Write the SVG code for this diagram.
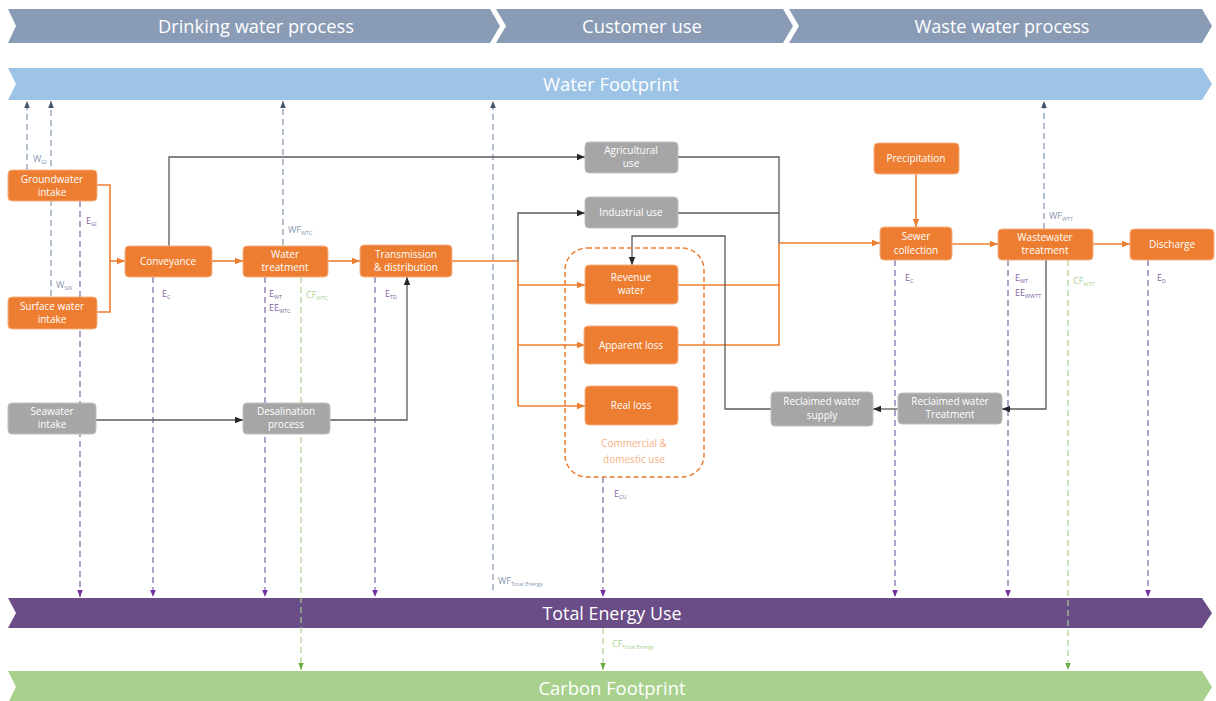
<svg xmlns="http://www.w3.org/2000/svg" width="1216" height="701" viewBox="0 0 1216 701">
<defs>
<style>
.band{font-family:"Open Sans","Noto Sans",sans-serif;fill:#ffffff;text-anchor:middle}
.nt{font-family:"Open Sans","Noto Sans",sans-serif;font-size:10px;fill:#ffffff;text-anchor:middle}
.or{fill:#ed7d31;stroke:#f4b183;stroke-width:1}
.gr{fill:#a6a6a6;stroke:#bfbfbf;stroke-width:1}
.lo{fill:none;stroke:#ed7d31;stroke-width:1.6}
.ld{fill:none;stroke:#595959;stroke-width:1.3}
.db{fill:none;stroke:#8497b0;stroke-width:1.2;stroke-dasharray:6,4}
.dp{fill:none;stroke:#8064a2;stroke-width:1.2;stroke-dasharray:6,4}
.dg{fill:none;stroke:#a9d18e;stroke-width:1.2;stroke-dasharray:6,4}
.lb{font-family:"Open Sans","Noto Sans",sans-serif;font-size:9px;fill:#8497b0}
.lp{font-family:"Open Sans","Noto Sans",sans-serif;font-size:9px;fill:#8064a2}
.lg{font-family:"Open Sans","Noto Sans",sans-serif;font-size:9px;fill:#a9d18e}
.sub{font-size:5.5px}
</style>
<marker id="aO" viewBox="0 0 10 10" refX="10" refY="5" markerWidth="8" markerHeight="8" markerUnits="userSpaceOnUse" orient="auto"><path d="M0,1 L10,5 L0,9 Z" fill="#ed7d31"/></marker>
<marker id="aD" viewBox="0 0 10 10" refX="10" refY="5" markerWidth="8" markerHeight="8" markerUnits="userSpaceOnUse" orient="auto"><path d="M0,1 L10,5 L0,9 Z" fill="#262626"/></marker>
<marker id="aB" viewBox="0 0 10 10" refX="10" refY="5" markerWidth="7" markerHeight="7" markerUnits="userSpaceOnUse" orient="auto"><path d="M0,1 L10,5 L0,9 Z" fill="#44546a"/></marker>
<marker id="aP" viewBox="0 0 10 10" refX="10" refY="5" markerWidth="7" markerHeight="7" markerUnits="userSpaceOnUse" orient="auto"><path d="M0,1 L10,5 L0,9 Z" fill="#7030a0"/></marker>
<marker id="aG" viewBox="0 0 10 10" refX="10" refY="5" markerWidth="7" markerHeight="7" markerUnits="userSpaceOnUse" orient="auto"><path d="M0,1 L10,5 L0,9 Z" fill="#70ad47"/></marker>
</defs>
<rect width="1216" height="701" fill="#ffffff"/>

<g id="header">
<path d="M8,9 L490,9 L500,26 L490,43 L8,43 L16,26 Z" fill="#8a9bb5"/>
<path d="M496,9 L783,9 L793,26 L783,43 L496,43 L506,26 Z" fill="#8a9bb5"/>
<path d="M789,9 L1202,9 L1212,26 L1202,43 L789,43 L799,26 Z" fill="#8a9bb5"/>
<text class="band" x="256" y="33" font-size="19" textLength="196" lengthAdjust="spacingAndGlyphs">Drinking water process</text>
<text class="band" x="642" y="33" font-size="19" textLength="120" lengthAdjust="spacingAndGlyphs">Customer use</text>
<text class="band" x="1002" y="33" font-size="19" textLength="175" lengthAdjust="spacingAndGlyphs">Waste water process</text>
</g>

<g id="water-footprint">
<path d="M8,68 L1202,68 L1212,84 L1202,100 L8,100 L16,84 Z" fill="#9dc3e6"/>
<text class="band" x="611" y="91" font-size="19" textLength="136" lengthAdjust="spacingAndGlyphs">Water Footprint</text>
</g>
<g id="total-energy">
<path d="M8,598 L1202,598 L1212,613 L1202,628 L8,628 L16,613 Z" fill="#6a4c86"/>
<text class="band" x="612" y="620" font-size="19" textLength="139" lengthAdjust="spacingAndGlyphs">Total Energy Use</text>
</g>
<g id="carbon-footprint">
<path d="M8,671 L1202,671 L1212,687 L1202,703 L8,703 L16,687 Z" fill="#a9d18e"/>
<text class="band" x="612" y="695" font-size="19" textLength="147" lengthAdjust="spacingAndGlyphs">Carbon Footprint</text>
</g>

<g id="connectors">
<!-- dashed blue up -->
<path class="db" d="M27,170 V101" marker-end="url(#aB)"/>
<path class="db" d="M51,296 V101" marker-end="url(#aB)"/>
<path class="db" d="M283,245 V101" marker-end="url(#aB)"/>
<path class="db" d="M493,590 V101" marker-end="url(#aB)"/>
<path class="db" d="M1044,229 V101" marker-end="url(#aB)"/>
<!-- dashed purple down -->
<path class="dp" d="M80,201 V597" marker-end="url(#aP)"/>
<path class="dp" d="M153,277 V597" marker-end="url(#aP)"/>
<path class="dp" d="M265,277 V597" marker-end="url(#aP)"/>
<path class="dp" d="M375,277 V597" marker-end="url(#aP)"/>
<path class="dp" d="M603,477 V597" marker-end="url(#aP)"/>
<path class="dp" d="M895,260 V597" marker-end="url(#aP)"/>
<path class="dp" d="M1008,260 V597" marker-end="url(#aP)"/>
<path class="dp" d="M1148,260 V597" marker-end="url(#aP)"/>
<!-- dashed green down -->
<path class="dg" d="M301,277 V670" marker-end="url(#aG)"/>
<path class="dg" d="M603,628 V670" marker-end="url(#aG)"/>
<path class="dg" d="M1068,260 V670" marker-end="url(#aG)"/>
<!-- orange flows -->
<path class="lo" d="M97,185 H110 V312 H97"/>
<path class="lo" d="M110,261 H125" marker-end="url(#aO)"/>
<path class="lo" d="M212,261 H243" marker-end="url(#aO)"/>
<path class="lo" d="M328,261 H360" marker-end="url(#aO)"/>
<path class="lo" d="M452,261 H518 V406"/>
<path class="lo" d="M518,285 H585" marker-end="url(#aO)"/>
<path class="lo" d="M518,345 H585" marker-end="url(#aO)"/>
<path class="lo" d="M518,406 H585" marker-end="url(#aO)"/>
<path class="lo" d="M678,285 H779"/>
<path class="lo" d="M678,345 H779 V243"/>
<path class="lo" d="M779,243 H880" stroke-width="2.2" marker-end="url(#aO)"/>
<path class="lo" d="M916,174 V227" marker-end="url(#aO)"/>
<path class="lo" d="M952,244 H998" marker-end="url(#aO)"/>
<path class="lo" d="M1093,244 H1130" marker-end="url(#aO)"/>
<!-- dark flows -->
<path class="ld" d="M169,246 V157 H585" marker-end="url(#aD)"/>
<path class="ld" d="M518,261 V213 H585" marker-end="url(#aD)"/>
<path class="ld" d="M678,157 H779 V243"/>
<path class="ld" d="M678,213 H779"/>
<path class="ld" d="M96,420 H243" marker-end="url(#aD)"/>
<path class="ld" d="M330,420 H407 V277" marker-end="url(#aD)"/>
<path class="ld" d="M1046,260 V409 H1002" marker-end="url(#aD)"/>
<path class="ld" d="M898,409 H873" marker-end="url(#aD)"/>
<path class="ld" d="M771,409 H725 V236 H632 V265" marker-end="url(#aD)"/>
</g>

<g id="labels">
<text class="lb" x="33" y="162">W<tspan class="sub" dy="2">GI</tspan></text>
<text class="lb" x="56" y="288">W<tspan class="sub" dy="2">SW</tspan></text>
<text class="lb" x="288" y="233">WF<tspan class="sub" dy="2">WTC</tspan></text>
<text class="lb" x="498" y="584">WF<tspan class="sub" dy="2">Total Energy</tspan></text>
<text class="lb" x="1049" y="219">WF<tspan class="sub" dy="2">WTT</tspan></text>
<text class="lp" x="86" y="224">E<tspan class="sub" dy="2">GI</tspan></text>
<text class="lp" x="162" y="297">E<tspan class="sub" dy="2">C</tspan></text>
<text class="lp" x="269" y="297">E<tspan class="sub" dy="2">WT</tspan></text>
<text class="lp" x="269" y="311">EE<tspan class="sub" dy="2">WTC</tspan></text>
<text class="lp" x="385" y="297">E<tspan class="sub" dy="2">TD</tspan></text>
<text class="lp" x="614" y="497">E<tspan class="sub" dy="2">CU</tspan></text>
<text class="lp" x="905" y="281">E<tspan class="sub" dy="2">C</tspan></text>
<text class="lp" x="1015" y="281">E<tspan class="sub" dy="2">WT</tspan></text>
<text class="lp" x="1015" y="296">EE<tspan class="sub" dy="2">WWTT</tspan></text>
<text class="lp" x="1157" y="281">E<tspan class="sub" dy="2">D</tspan></text>
<text class="lg" x="306" y="298">CF<tspan class="sub" dy="2">WTC</tspan></text>
<text class="lg" x="612" y="647">CF<tspan class="sub" dy="2">Total Energy</tspan></text>
<text class="lg" x="1073" y="284">CF<tspan class="sub" dy="2">WTT</tspan></text>
</g>

<g id="commercial-domestic">
<rect x="565" y="248" width="139" height="229" rx="22" fill="none" stroke="#ed7d31" stroke-width="1.5" stroke-dasharray="5,3"/>
<text class="nt" x="634" y="447" fill="#f4b183" style="fill:#f4b183">Commercial &amp;</text>
<text class="nt" x="634" y="463" style="fill:#f4b183">domestic use</text>
</g>

<g id="groundwater-intake"><rect class="or" x="8" y="170" width="89" height="31" rx="4"/><text class="nt" x="52" y="183">Groundwater</text><text class="nt" x="52" y="196">intake</text></g>
<g id="surface-water-intake"><rect class="or" x="8" y="297" width="89" height="32" rx="4"/><text class="nt" x="52" y="310">Surface water</text><text class="nt" x="52" y="323">intake</text></g>
<g id="conveyance"><rect class="or" x="125" y="246" width="87" height="31" rx="4"/><text class="nt" x="168" y="265">Conveyance</text></g>
<g id="water-treatment"><rect class="or" x="243" y="246" width="85" height="31" rx="4"/><text class="nt" x="285" y="258">Water</text><text class="nt" x="285" y="271">treatment</text></g>
<g id="transmission-distribution"><rect class="or" x="360" y="245" width="92" height="32" rx="4"/><text class="nt" x="406" y="258">Transmission</text><text class="nt" x="406" y="271">&amp; distribution</text></g>
<g id="seawater-intake"><rect class="gr" x="8" y="403" width="88" height="31" rx="4"/><text class="nt" x="52" y="415">Seawater</text><text class="nt" x="52" y="428">intake</text></g>
<g id="desalination-process"><rect class="gr" x="243" y="403" width="87" height="31" rx="4"/><text class="nt" x="286" y="415">Desalination</text><text class="nt" x="286" y="428">process</text></g>
<g id="agricultural-use"><rect class="gr" x="585" y="142" width="93" height="31" rx="4"/><text class="nt" x="631" y="154">Agricultural</text><text class="nt" x="631" y="167">use</text></g>
<g id="industrial-use"><rect class="gr" x="585" y="197" width="93" height="31" rx="4"/><text class="nt" x="631" y="216">Industrial use</text></g>
<g id="revenue-water"><rect class="or" x="585" y="265" width="93" height="39" rx="4"/><text class="nt" x="631" y="281">Revenue</text><text class="nt" x="631" y="294">water</text></g>
<g id="apparent-loss"><rect class="or" x="584" y="326" width="94" height="38" rx="4"/><text class="nt" x="631" y="349">Apparent loss</text></g>
<g id="real-loss"><rect class="or" x="585" y="386" width="93" height="39" rx="4"/><text class="nt" x="631" y="409">Real loss</text></g>
<g id="precipitation"><rect class="or" x="874" y="143" width="85" height="31" rx="4"/><text class="nt" x="916" y="162">Precipitation</text></g>
<g id="sewer-collection"><rect class="or" x="880" y="227" width="72" height="33" rx="4"/><text class="nt" x="916" y="240">Sewer</text><text class="nt" x="916" y="254">collection</text></g>
<g id="wastewater-treatment"><rect class="or" x="998" y="229" width="95" height="31" rx="4"/><text class="nt" x="1045" y="241">Wastewater</text><text class="nt" x="1045" y="254">treatment</text></g>
<g id="discharge"><rect class="or" x="1130" y="229" width="84" height="31" rx="4"/><text class="nt" x="1172" y="248">Discharge</text></g>
<g id="reclaimed-water-treatment"><rect class="gr" x="898" y="393" width="104" height="31" rx="4"/><text class="nt" x="950" y="405">Reclaimed water</text><text class="nt" x="950" y="418">Treatment</text></g>
<g id="reclaimed-water-supply"><rect class="gr" x="771" y="392" width="102" height="34" rx="4"/><text class="nt" x="822" y="405">Reclaimed water</text><text class="nt" x="822" y="419">supply</text></g>
</svg>
